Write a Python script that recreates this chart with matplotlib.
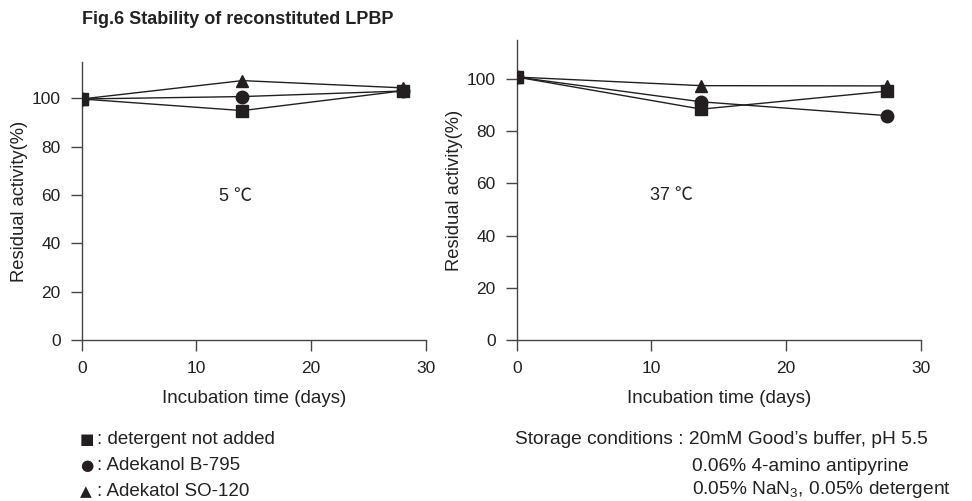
import matplotlib
matplotlib.use('Agg')
import matplotlib.pyplot as plt

plt.rcParams['font.family'] = ['Liberation Sans', 'Noto Sans CJK JP', 'DejaVu Sans']
plt.rcParams['mathtext.fontset'] = 'custom'
plt.rcParams['mathtext.rm'] = 'Liberation Sans'

# 5 C panel
days_5 = [0, 14, 28]
none_5 = [99.7, 94.9, 103.1]
b795_5 = [99.7, 100.7, 103.0]
so120_5 = [99.7, 107.3, 104.3]

# 37 C panel
days_37 = [0, 13.7, 27.5]
none_37 = [100.8, 88.5, 95.4]
b795_37 = [100.8, 91.3, 86.0]
so120_37 = [100.8, 97.5, 97.4]

x_ticks = [0, 10, 20, 30]
y_ticks = [0, 20, 40, 60, 80, 100]

W, H = 972, 501
fig = plt.figure(figsize=(W / 100, H / 100), dpi=100)

ax1 = fig.add_axes([81.7 / W, 161 / H, (426 - 81.7) / W, 278 / H])
ax2 = fig.add_axes([516.7 / W, 161 / H, (921 - 516.7) / W, 300 / H])

ink = '#231f20'
txt = '#222222'

for ax, d, s1, s2, s3, lab, lx, ly in [
        (ax1, days_5, none_5, b795_5, so120_5, '5 ℃', 13.4, 59.5),
        (ax2, days_37, none_37, b795_37, so120_37, '37 ℃', 11.5, 55.5)]:
    ax.plot(d, s3, color=ink, lw=1, marker='^', ms=9, zorder=3)
    ax.plot(d, s2, color=ink, lw=1, marker='o', ms=9, zorder=4)
    ax.plot(d, s1, color=ink, lw=1, marker='s', ms=8.5, zorder=5)
    ax.set_xlim(0, 30)
    ax.set_ylim(0, 115)
    ax.set_xticks(x_ticks)
    ax.set_yticks(y_ticks)
    for sp in ['top', 'right']:
        ax.spines[sp].set_visible(False)
    for sp in ['left', 'bottom']:
        ax.spines[sp].set_color('#444444')
        ax.spines[sp].set_linewidth(1)
    ax.tick_params(direction='out', length=8, width=1, color='#444444',
                   labelsize=12.5, pad=7, labelcolor=txt)
    ax.set_xlabel('Incubation time (days)', fontsize=13.5, labelpad=10, color=txt)
    ax.set_ylabel('Residual activity(%)', fontsize=13.2, labelpad=3, color=txt)
    ax.text(lx, ly, lab, fontsize=13, ha='center', va='center', color=txt)

fig.text(81.7 / W, 1 - 20 / H, 'Fig.6 Stability of reconstituted LPBP',
         fontsize=13, fontweight='bold', va='center', ha='left', color=txt)

legend_syms = ['■', '●', '▲']
legend_names = ['detergent not added', 'Adekanol B-795', 'Adekatol SO-120']
for i, (sym, name) in enumerate(zip(legend_syms, legend_names)):
    yy = 1 - (439 + 26.5 * i) / H
    fig.text(80 / W, yy, sym, fontsize=11, va='center', ha='left',
             family='DejaVu Sans', color=ink)
    fig.text(97 / W, yy, ': ' + name, fontsize=13.5, va='center', ha='left', color=txt)

storage = ['Storage conditions : 20mM Good’s buffer, pH 5.5',
           '0.06% 4-amino antipyrine',
           r'0.05% NaN$_3$, 0.05% detergent']
fig.text(515 / W, 1 - 440 / H, storage[0], fontsize=13.8, va='center', ha='left', color=txt)
fig.text(692 / W, 1 - 466.5 / H, storage[1], fontsize=13.8, va='center', ha='left', color=txt)
fig.text(692 / W, 1 - 490 / H, storage[2], fontsize=13.8, va='center', ha='left', color=txt)

fig.savefig('out.png', dpi=100)
